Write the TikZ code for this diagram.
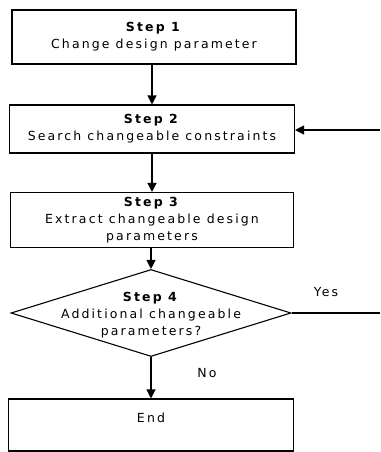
\documentclass[tikz,border=0pt]{standalone}
\usepackage{fontspec}
\setmainfont{DejaVu Sans}[LetterSpace=17]
\usetikzlibrary{shapes.geometric}
\usetikzlibrary{arrows.meta}

\tikzset{
  stepbox/.style={draw, line width=1.1pt, inner sep=0pt, align=center,
                  font=\fontsize{12.5}{17}\selectfont},
  decision/.style={diamond, draw, line width=1.1pt, inner sep=0pt},
  steptext/.style={align=center, inner sep=0pt, font=\fontsize{12.5}{17}\selectfont},
  link/.style={line width=1.2pt, -{Triangle[length=9pt,width=9pt]}},
  plainlink/.style={line width=1.2pt},
}

\begin{document}
\begin{tikzpicture}[x=1pt,y=-1pt]
\useasboundingbox (0,0) rectangle (380,452);

%---------------------------------------
% Steps
%---------------------------------------
\node[stepbox, minimum width=284pt, minimum height=54pt] (step1) at (154,37)
  {\textbf{Step 1}\\Change design parameter};
\node[stepbox, minimum width=285pt, minimum height=48pt] (step2) at (152,129)
  {\textbf{Step 2}\\Search changeable constraints};
\node[stepbox, minimum width=283pt, minimum height=55pt] (step3) at (152,220)
  {\textbf{Step 3}\\Extract changeable design\\parameters};

% Decision
\node[decision, minimum width=280pt, minimum height=87pt] (dec) at (151,313) {};
\node[steptext] (dectext) at (151,315)
  {\textbf{Step 4}\\Additional changeable\\parameters?};

% End
\node[stepbox, minimum width=285pt, minimum height=52pt, text depth=14pt] (finish) at (151,425) {End};

%---------------------------------------
% Connectors
%---------------------------------------
\coordinate (back) at (380,130);
\coordinate (yesend) at (380,313);

\draw[link] (step2.north |- step1.south) -- (step2.north);
\draw[link] (step2.south) -- (step3.north);
\draw[link] (dec.north |- step3.south) -- (dec.north);
\draw[link] (dec.south) -- (finish.north);
\draw[link] (back) -- (step2.east |- back);
\draw[plainlink] (dec.east) -- (yesend);

% Labels
\node (yes) at (326,292) {\fontsize{12.5}{14}\selectfont Yes};
\node (no) at (207,373) {\fontsize{12.5}{14}\selectfont No};

\end{tikzpicture}
\end{document}
